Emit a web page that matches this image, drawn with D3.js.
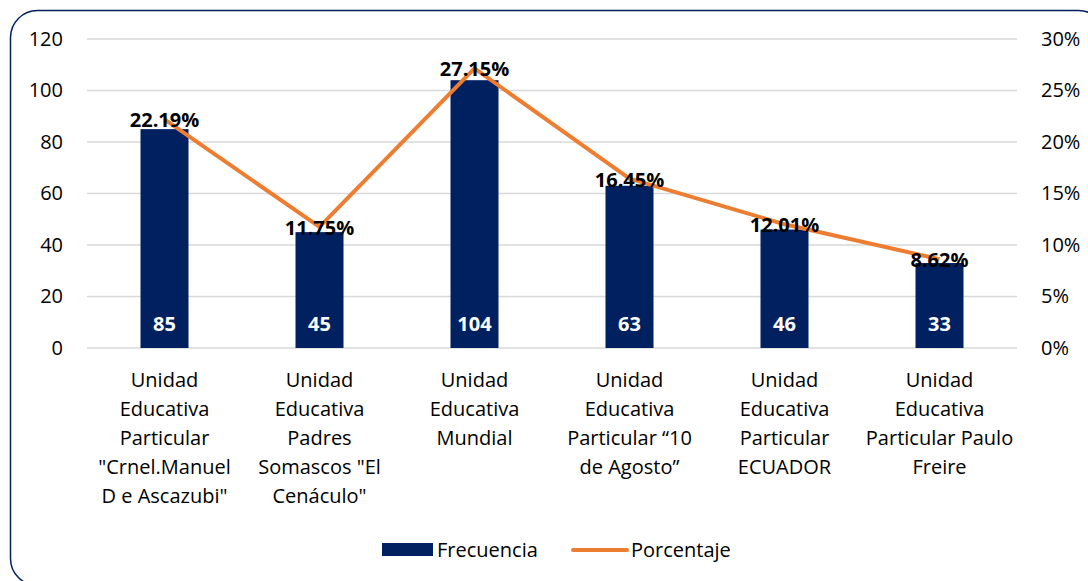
<!DOCTYPE html>
<html>
<head>
<meta charset="utf-8">
<script src="https://cdn.jsdelivr.net/npm/d3@7"></script>
<style>
  body { margin: 0; background: #fff; }
  svg { display: block; font-family: "Open Sans", "Noto Sans", sans-serif; }
</style>
</head>
<body>
<svg id="chart" width="1088" height="581"></svg>
<script>
// data
const categories = [
  ["Unidad", "Educativa", "Particular", "\"Crnel.Manuel", "D e Ascazubi\""],
  ["Unidad", "Educativa", "Padres", "Somascos \"El", "Cenáculo\""],
  ["Unidad", "Educativa", "Mundial"],
  ["Unidad", "Educativa", "Particular “10", "de Agosto”"],
  ["Unidad", "Educativa", "Particular", "ECUADOR"],
  ["Unidad", "Educativa", "Particular Paulo", "Freire"]
];
const frecuencia = [85, 45, 104, 63, 46, 33];
const porcentaje = [22.19, 11.75, 27.15, 16.45, 12.01, 8.62];
const leftTicks = [0, 20, 40, 60, 80, 100, 120];
const rightTicks = [0, 5, 10, 15, 20, 25, 30];

const navy = "#002060";
const orange = "#ED7D31";
const fs = 20;

const svg = d3.select("#chart");

// frame with rounded corners (runs off the bottom/right of the picture)
svg.append("rect")
  .attr("x", 10.5).attr("y", 10.5)
  .attr("width", 1095).attr("height", 575)
  .attr("rx", 27)
  .attr("fill", "none")
  .attr("stroke", navy)
  .attr("stroke-width", 1.5);

const plot = { left: 87, right: 1017, top: 39, bottom: 348 };
const idx = d3.range(categories.length);

const x = d3.scaleBand().domain(idx).range([plot.left, plot.right]);
const y = d3.scaleLinear().domain([0, 120]).range([plot.bottom, plot.top]);
const y2 = d3.scaleLinear().domain([0, 30]).range([plot.bottom, plot.top]);

// gridlines
svg.append("g")
  .selectAll("line")
  .data(leftTicks)
  .join("line")
  .attr("x1", plot.left).attr("x2", plot.right)
  .attr("y1", d => y(d)).attr("y2", d => y(d))
  .attr("stroke", "#d9d9d9")
  .attr("stroke-width", 1.5);

// left axis
const yAxis = svg.append("g")
  .attr("transform", "translate(63,0)")
  .call(d3.axisLeft(y).tickValues(leftTicks).tickSize(0).tickPadding(0));
yAxis.select(".domain").remove();
yAxis.selectAll("text").attr("font-size", fs).attr("fill", "#000").attr("font-family", "Open Sans");

// right axis
const y2Axis = svg.append("g")
  .attr("transform", "translate(1041,0)")
  .call(d3.axisRight(y2).tickValues(rightTicks).tickSize(0).tickPadding(0).tickFormat(d => d + "%"));
y2Axis.select(".domain").remove();
y2Axis.selectAll("text").attr("font-size", fs).attr("fill", "#000").attr("font-family", "Open Sans");

// bars
const barW = 48;
svg.append("g")
  .selectAll("rect")
  .data(frecuencia)
  .join("rect")
  .attr("x", (d, i) => x(i) + x.bandwidth() / 2 - barW / 2)
  .attr("y", d => y(d))
  .attr("width", barW)
  .attr("height", d => plot.bottom - y(d))
  .attr("fill", navy);

// bar value labels
svg.append("g")
  .selectAll("text")
  .data(frecuencia)
  .join("text")
  .attr("x", (d, i) => x(i) + x.bandwidth() / 2)
  .attr("y", plot.bottom - 17)
  .attr("text-anchor", "middle")
  .attr("font-size", fs)
  .attr("font-weight", "bold")
  .attr("fill", "#fff")
  .text(d => d);

// percentage line
const line = d3.line()
  .x((d, i) => x(i) + x.bandwidth() / 2)
  .y(d => y2(d));
svg.append("path")
  .datum(porcentaje)
  .attr("d", line)
  .attr("fill", "none")
  .attr("stroke", orange)
  .attr("stroke-width", 4)
  .attr("stroke-linejoin", "round");

// percentage labels
svg.append("g")
  .selectAll("text")
  .data(porcentaje)
  .join("text")
  .attr("x", (d, i) => x(i) + x.bandwidth() / 2)
  .attr("y", d => y2(d) + 8)
  .attr("text-anchor", "middle")
  .attr("font-size", fs)
  .attr("font-weight", "bold")
  .attr("fill", "#000")
  .text(d => d.toFixed(2) + "%");

// category labels
const cat = svg.append("g")
  .selectAll("text")
  .data(categories)
  .join("text")
  .attr("x", (d, i) => x(i) + x.bandwidth() / 2)
  .attr("y", 387)
  .attr("text-anchor", "middle")
  .attr("font-size", fs)
  .attr("fill", "#000");
cat.selectAll("tspan")
  .data(d => d)
  .join("tspan")
  .attr("x", function () { return d3.select(this.parentNode).attr("x"); })
  .attr("dy", (d, i) => i === 0 ? 0 : 29)
  .text(d => d);

// legend
const lg = svg.append("g");
lg.append("rect").attr("x", 382).attr("y", 543).attr("width", 51).attr("height", 13).attr("fill", navy);
lg.append("text").attr("x", 437).attr("y", 557).attr("font-size", fs).text("Frecuencia");
lg.append("line").attr("x1", 573).attr("x2", 627).attr("y1", 550).attr("y2", 550)
  .attr("stroke", orange).attr("stroke-width", 4).attr("stroke-linecap", "round");
lg.append("text").attr("x", 631).attr("y", 557).attr("font-size", fs).text("Porcentaje");
</script>
</body>
</html>
